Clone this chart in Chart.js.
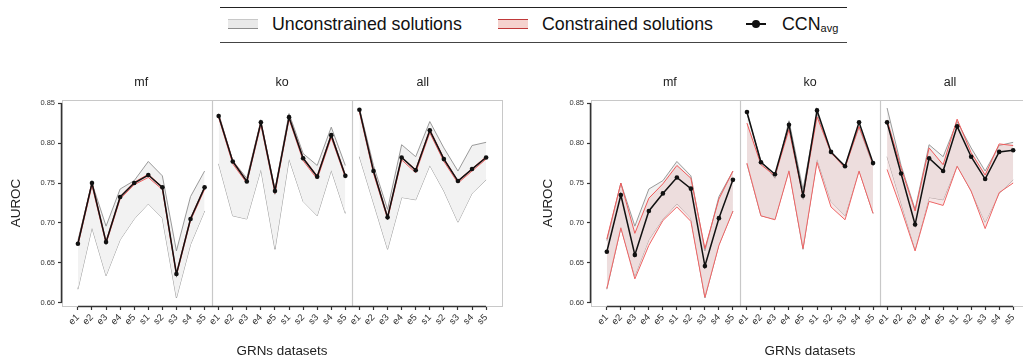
<!DOCTYPE html>
<html>
<head>
<meta charset="utf-8">
<script src="https://cdn.jsdelivr.net/npm/chart.js@4.4.0/dist/chart.umd.min.js"></script>
<style>
  html,body{margin:0;padding:0;background:#fff;overflow:hidden;width:1023px;height:362px;font-family:"Liberation Sans",Arial,sans-serif;}
  canvas{position:absolute;top:0;}
  #legend{position:absolute;left:220px;top:7px;width:627px;height:34px;border-top:1px solid #222;border-bottom:1.5px solid #444;}
  #legend .it{position:absolute;top:0;height:32px;line-height:32px;font-size:17.8px;color:#111;white-space:nowrap;}
  #legend .sw{position:absolute;top:11px;width:30px;height:8px;}
  sub{font-size:11px;vertical-align:-2px;}
</style>
</head>
<body>
<div id="legend">
  <div class="sw" style="left:8px;background:#e9e9e9;border-top:1px solid #c8c8c8;border-bottom:1.5px solid #8c8c8c;"></div>
  <div class="it" style="left:52px;">Unconstrained solutions</div>
  <div class="sw" style="left:278px;background:#f5d2ce;border-top:1.2px solid #c0393a;border-bottom:1.5px solid #c0393a;"></div>
  <div class="it" style="left:322px;">Constrained solutions</div>
  <div style="position:absolute;left:526px;top:15px;width:20px;height:1.8px;background:#111;"></div>
  <div style="position:absolute;left:532px;top:12px;width:8px;height:8px;border-radius:4px;background:#111;"></div>
  <div class="it" style="left:562px;">CCN<sub>avg</sub></div>
</div>
<canvas id="chartA" width="512" height="362" style="left:0px;"></canvas>
<canvas id="chartB" width="530" height="362" style="left:510px;"></canvas>
<script>
const panels = ['mf', 'ko', 'all'];
const datasetNames = ['e1','e2','e3','e4','e5','s1','s2','s3','s4','s5'];
const yTicks = [0.60, 0.65, 0.70, 0.75, 0.80, 0.85];

// 30 values each: mf (e1..s5), ko (e1..s5), all (e1..s5)
const uncHigh = [0.678,0.750,0.696,0.7425,0.753,0.777,0.759,0.665,0.733,0.765,
                 0.837,0.778,0.756,0.828,0.742,0.837,0.787,0.772,0.820,0.772,
                 0.844,0.772,0.717,0.798,0.783,0.827,0.794,0.765,0.797,0.801];
const uncLow  = [0.617,0.694,0.634,0.679,0.705,0.724,0.706,0.606,0.673,0.715,
                 0.774,0.709,0.705,0.767,0.667,0.780,0.727,0.709,0.766,0.712,
                 0.783,0.725,0.667,0.732,0.729,0.772,0.740,0.701,0.737,0.754];

// left figure
const ccnA     = [0.674,0.750,0.676,0.7325,0.750,0.760,0.7446,0.636,0.705,0.7446,
                  0.834,0.777,0.752,0.826,0.740,0.8325,0.781,0.758,0.810,0.759,
                  0.8417,0.765,0.707,0.782,0.766,0.816,0.780,0.7525,0.7675,0.782];
const conHighA = [0.675,0.751,0.677,0.733,0.751,0.761,0.745,0.637,0.706,0.745,
                  0.835,0.778,0.753,0.827,0.741,0.833,0.782,0.759,0.811,0.760,
                  0.842,0.766,0.708,0.782,0.767,0.817,0.781,0.753,0.768,0.783];
const conLowA  = [0.672,0.747,0.674,0.730,0.748,0.757,0.742,0.634,0.703,0.742,
                  0.832,0.774,0.750,0.823,0.737,0.830,0.778,0.755,0.807,0.757,
                  0.839,0.762,0.705,0.779,0.763,0.813,0.777,0.750,0.765,0.780];

// right figure
const ccnB     = [0.664,0.735,0.660,0.715,0.737,0.757,0.743,0.646,0.706,0.754,
                  0.839,0.776,0.761,0.823,0.734,0.841,0.789,0.771,0.826,0.775,
                  0.826,0.762,0.698,0.781,0.765,0.821,0.783,0.755,0.789,0.791];
const conHighB = [0.680,0.750,0.687,0.731,0.749,0.772,0.756,0.668,0.730,0.765,
                  0.825,0.773,0.759,0.817,0.733,0.833,0.788,0.769,0.821,0.774,
                  0.829,0.769,0.715,0.794,0.773,0.830,0.788,0.760,0.799,0.797];
const conLowB  = [0.618,0.694,0.630,0.672,0.703,0.720,0.702,0.607,0.672,0.715,
                  0.775,0.709,0.704,0.765,0.668,0.776,0.720,0.704,0.765,0.712,
                  0.767,0.718,0.665,0.727,0.722,0.771,0.740,0.693,0.738,0.750];

const FONT = "'Liberation Sans', Arial, sans-serif";

function pts(arr, g){
  return arr.slice(g*10, g*10+10).map((y,i)=>({x:g*10+i, y:y}));
}

const panelDecor = {
  id:'panelDecor',
  beforeDatasetsDraw(chart){
    const {ctx, chartArea:a, scales:{x}} = chart;
    ctx.save();
    ctx.strokeStyle = '#c8c8c8'; ctx.lineWidth = 1;
    ctx.strokeRect(a.left+0.5, a.top+0.5, a.right-a.left, a.bottom-a.top);
    ctx.lineWidth = 1.2;
    [9.5, 19.5].forEach(v=>{
      const px = Math.round(x.getPixelForValue(v))+0.5;
      ctx.beginPath(); ctx.moveTo(px, a.top); ctx.lineTo(px, a.bottom); ctx.stroke();
    });
    ctx.restore();
  },
  afterDraw(chart){
    const {ctx, chartArea:a, scales:{x, y}} = chart;
    ctx.save();
    ctx.strokeStyle = '#333'; ctx.lineWidth = 1.5;
    ctx.beginPath();
    ctx.moveTo(a.left-0.5, y.getPixelForValue(yTicks[0]));
    ctx.lineTo(a.left-0.5, y.getPixelForValue(yTicks[yTicks.length-1]));
    ctx.moveTo(x.getPixelForValue(0), a.bottom+0.5);
    ctx.lineTo(x.getPixelForValue(29), a.bottom+0.5);
    ctx.stroke();
    ctx.fillStyle = '#222'; ctx.font = '12.5px ' + FONT;
    ctx.textAlign = 'center'; ctx.textBaseline = 'middle';
    panels.forEach((p,g)=> ctx.fillText(p, x.getPixelForValue(g*10+4.5), 83));
    ctx.restore();
  }
};

function makeChart(id, ccn, conHigh, conLow, padLeft, yWidth, padRight){
  const datasets = [];
  panels.forEach((p,g)=>{
    datasets.push({data:pts(uncHigh,g), borderColor:'#8e8e8e', borderWidth:0.9, pointRadius:0, fill:'+1', backgroundColor:'#f2f2f2', order:3, tension:0});
    datasets.push({data:pts(uncLow,g), borderColor:'#8e8e8e', borderWidth:0.9, pointRadius:0, fill:false, order:3, tension:0});
    datasets.push({data:pts(conHigh,g), borderColor:'#f05a5a', borderWidth:1, pointRadius:0, fill:'+1', backgroundColor:'rgba(225,170,170,0.28)', order:2, tension:0});
    datasets.push({data:pts(conLow,g), borderColor:'#f05a5a', borderWidth:1, pointRadius:0, fill:false, order:2, tension:0});
    datasets.push({data:pts(ccn,g), borderColor:'#111', borderWidth:1.5, pointRadius:2.3, pointBackgroundColor:'#111', pointBorderWidth:0, fill:false, order:1, tension:0});
  });
  return new Chart(document.getElementById(id), {
    type:'line',
    data:{datasets},
    options:{
      responsive:false, animation:false,
      layout:{padding:{top:100, left:padLeft, right:padRight, bottom:0}},
      plugins:{legend:{display:false}, tooltip:{enabled:false}},
      scales:{
        x:{
          type:'linear', min:-1.13, max:30.13,
          afterBuildTicks: s=>{ s.ticks = Array.from({length:30},(_,i)=>({value:i})); },
          afterFit: s=>{ s.height = 56; },
          ticks:{font:{size:9.5, family:FONT}, color:'#333', minRotation:45, maxRotation:45, autoSkip:false, padding:2,
                 callback:v=>datasetNames[v%10]},
          grid:{drawOnChartArea:false, drawTicks:true, tickLength:4, tickColor:'#333', tickWidth:1.2},
          border:{display:false},
          title:{display:true, text:'GRNs datasets', font:{size:13.4, family:FONT}, color:'#222', padding:{top:0,bottom:3}}
        },
        y:{
          min:0.596, max:0.854,
          afterBuildTicks: s=>{ s.ticks = yTicks.map(v=>({value:v})); },
          afterFit: s=>{ s.width = yWidth; },
          ticks:{font:{size:7.5, family:FONT}, color:'#333', padding:3, callback:v=>v.toFixed(2)},
          grid:{drawOnChartArea:false, drawTicks:true, tickLength:4, tickColor:'#333', tickWidth:1.2},
          border:{display:false},
          title:{display:true, text:'AUROC', font:{size:13.4, family:FONT}, color:'#222', padding:{top:8,bottom:4}}
        }
      }
    },
    plugins:[panelDecor]
  });
}

makeChart('chartA', ccnA, conHighA, conLowA, 0, 62, 10);
makeChart('chartB', ccnB, conHighB, conLowB, 22, 59, 11);
</script>
</body>
</html>
